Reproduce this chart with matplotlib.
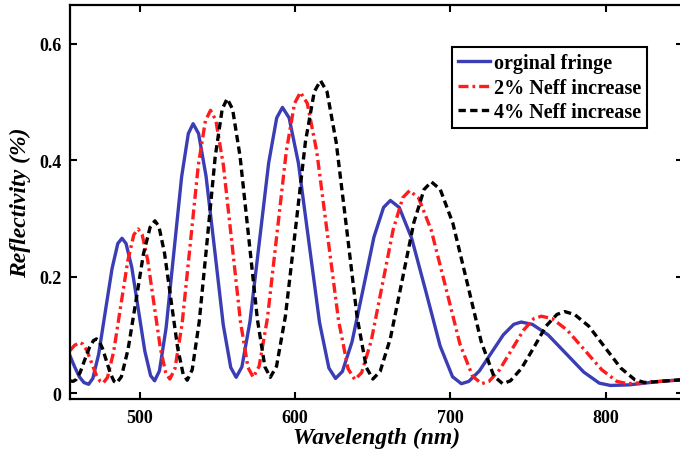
import matplotlib
matplotlib.use('Agg')
import matplotlib.pyplot as plt

# values (wavelength in nm, reflectivity)
wl_orig = [455, 458, 461, 464, 467,
           469.7, 473.5, 477.8, 482.1, 485.8, 488.5,
           491.1, 494.8, 499, 503.2, 506.9, 509.5,
           512.6, 516.9, 521.9, 526.9, 531.2, 534.3,
           537.8, 542.6, 548.2, 553.7, 558.5, 562,
           565.7, 570.9, 576.9, 582.9, 588.1, 591.8,
           596.1, 602.1, 608.9, 615.7, 621.7, 626,
           630.4, 636.6, 643.7, 650.7, 656.9, 661.3,
           667, 675, 684.2, 693.3, 701.3, 707,
           711.8, 718.6, 726.3, 734, 740.7, 745.5,
           752.7, 762.8, 774.3, 785.8, 795.8, 803,
           815, 825, 835, 850]
r_orig = [0.064, 0.045, 0.028, 0.018, 0.015,
          0.025, 0.067, 0.141, 0.214, 0.257, 0.266,
          0.257, 0.216, 0.144, 0.072, 0.030, 0.021,
          0.038, 0.112, 0.242, 0.372, 0.446, 0.463,
          0.446, 0.373, 0.245, 0.117, 0.044, 0.027,
          0.045, 0.123, 0.259, 0.395, 0.473, 0.491,
          0.473, 0.395, 0.258, 0.121, 0.043, 0.025,
          0.037, 0.088, 0.178, 0.268, 0.319, 0.331,
          0.319, 0.266, 0.174, 0.081, 0.028, 0.016,
          0.020, 0.038, 0.069, 0.100, 0.118, 0.122,
          0.118, 0.100, 0.068, 0.036, 0.017, 0.013,
          0.014, 0.017, 0.020, 0.023]

wl_2pct = [455, 458, 461.4,
           463.3, 465.9, 468.9, 471.9, 474.5, 476.4,
           479.2, 483.2, 487.7, 492.2, 496.1, 498.9,
           501.5, 505, 509.1, 513.2, 516.7, 519.3,
           522.6, 527.2, 532.4, 537.6, 542.2, 545.5,
           548.9, 553.8, 559.3, 564.8, 569.6, 573,
           576.8, 582.1, 588.2, 594.3, 599.6, 603.4,
           607.8, 613.9, 620.9, 627.9, 634, 638.4,
           642.8, 649, 656.1, 663.1, 669.3, 673.7,
           679.5, 687.6, 696.9, 706.1, 714.2, 720,
           724.8, 731.6, 739.3, 747, 753.7, 758.5,
           765.4, 775.2, 786.3, 797.4, 807.1, 814,
           825, 835, 850]
r_2pct = [0.073, 0.082, 0.087,
          0.084, 0.073, 0.052, 0.031, 0.020, 0.017,
          0.027, 0.072, 0.150, 0.227, 0.272, 0.282,
          0.272, 0.229, 0.153, 0.077, 0.034, 0.024,
          0.042, 0.119, 0.255, 0.391, 0.468, 0.486,
          0.469, 0.391, 0.257, 0.122, 0.044, 0.027,
          0.046, 0.128, 0.272, 0.416, 0.498, 0.517,
          0.498, 0.415, 0.270, 0.125, 0.042, 0.023,
          0.035, 0.090, 0.186, 0.281, 0.336, 0.348,
          0.335, 0.280, 0.182, 0.084, 0.029, 0.016,
          0.020, 0.040, 0.074, 0.108, 0.128, 0.132,
          0.128, 0.108, 0.074, 0.040, 0.020, 0.016,
          0.018, 0.020, 0.023]

wl_4pct = [455, 457,
           458.9, 461.5, 464.5, 467.5, 470.1, 472,
           473.6, 475.9, 478.5, 481.1, 483.4, 485,
           488.1, 492.4, 497.4, 502.3, 506.6, 509.7,
           512.3, 515.9, 520.1, 524.3, 527.9, 530.5,
           533.7, 538.2, 543.4, 548.5, 553, 556.2,
           559.7, 564.5, 570.1, 575.7, 580.5, 584,
           588, 593.7, 600.2, 606.6, 612.3, 616.3,
           620.5, 626.4, 633.2, 639.9, 645.8, 650,
           654.7, 661.3, 668.9, 676.4, 683, 687.7,
           693.4, 701.5, 710.7, 719.8, 727.9, 733.6,
           738.6, 745.6, 753.6, 761.5, 768.5, 773.5,
           779.9, 789, 799.3, 809.6, 818.6, 825,
           835, 850]
r_4pct = [0.021, 0.020,
          0.023, 0.035, 0.057, 0.078, 0.090, 0.093,
          0.090, 0.077, 0.055, 0.033, 0.020, 0.017,
          0.028, 0.075, 0.157, 0.239, 0.285, 0.296,
          0.286, 0.240, 0.159, 0.078, 0.032, 0.022,
          0.040, 0.122, 0.264, 0.406, 0.488, 0.506,
          0.488, 0.407, 0.267, 0.126, 0.045, 0.027,
          0.046, 0.132, 0.282, 0.432, 0.518, 0.537,
          0.518, 0.431, 0.281, 0.130, 0.044, 0.024,
          0.037, 0.094, 0.194, 0.293, 0.350, 0.363,
          0.350, 0.292, 0.190, 0.088, 0.029, 0.016,
          0.021, 0.042, 0.078, 0.115, 0.135, 0.140,
          0.135, 0.115, 0.079, 0.043, 0.023, 0.018,
          0.020, 0.023]

x_ticks = [500, 600, 700, 800]
y_ticks = [0, 0.2, 0.4, 0.6]
y_tick_labels = ['0', '0.2', '0.4', '0.6']

serif = ['Liberation Serif', 'DejaVu Serif']
plt.rcParams['font.family'] = serif

fig = plt.figure(figsize=(6.8, 4.56), dpi=100)
ax = fig.add_axes([0.1029, 0.1228, 0.9022, 0.864])

ax.plot(wl_orig, r_orig, color='#3a3db4', lw=2.4, label='orginal fringe')
ax.plot(wl_2pct, r_2pct, color='#ff1c1c', lw=2.4, dashes=(3, 1.2, 0.8, 1.2),
        label='2% Neff increase')
ax.plot(wl_4pct, r_4pct, color='black', lw=2.4, dashes=(2.2, 1.3),
        label='4% Neff increase')

ax.set_xlim(455, 850)
ax.set_ylim(-0.0103, 0.667)
ax.set_xticks(x_ticks)
ax.set_yticks(y_ticks)
ax.set_yticklabels(y_tick_labels)
ax.tick_params(direction='in', length=5, width=1.5, top=True, right=True,
               labelsize=13)
ax.tick_params(axis='x', pad=7)
ax.tick_params(axis='y', pad=6)
for lab in ax.get_xticklabels() + ax.get_yticklabels():
    lab.set_fontweight('bold')
for sp in ax.spines.values():
    sp.set_linewidth(1.6)

ax.set_xlabel('Wavelength (nm)', fontsize=17, fontweight='bold',
              fontstyle='italic', labelpad=1)
ax.set_ylabel('Reflectivity (%)', fontsize=17, fontweight='bold',
              fontstyle='italic', labelpad=6)

leg = ax.legend(loc='upper right', bbox_to_anchor=(0.9405, 0.893),
                borderaxespad=0, fancybox=False, framealpha=1,
                edgecolor='black', handlelength=1.55, handletextpad=0.2,
                labelspacing=0.22, borderpad=0.3,
                prop={'family': serif, 'weight': 'bold', 'size': 14.5})
leg.get_frame().set_linewidth(1.5)

fig.savefig('out.png', dpi=100)
